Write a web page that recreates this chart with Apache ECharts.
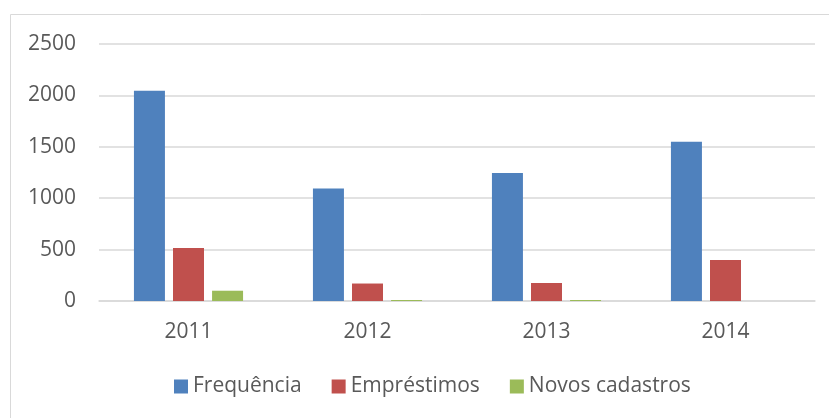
<!DOCTYPE html>
<html>
<head>
<meta charset="utf-8">
<script src="https://cdn.jsdelivr.net/npm/echarts@6/dist/echarts.min.js"></script>
<style>html,body{margin:0;padding:0;background:#fff}#c{width:829px;height:418px}</style>
</head>
<body>
<div id="c"></div>
<script>
const categories = ['2011', '2012', '2013', '2014'];
const frequencia = [2045, 1095, 1245, 1550];
const emprestimos = [515, 170, 175, 400];
const novosCadastros = [100, 10, 10, 0];
const yTicks = [0, 500, 1000, 1500, 2000, 2500];

const FONT = '"Open Sans", sans-serif';
const TXT = '#595959';
const chart = echarts.init(document.getElementById('c'), null, {renderer: 'canvas'});
function mk(name, data, color) {
  return {
    name: name, type: 'bar', data: data, barWidth: 31, barGap: '26%',
    itemStyle: {color: color, borderWidth: 0},
    emphasis: {disabled: true}, animation: false
  };
}
chart.setOption({
  animation: false,
  textStyle: {fontFamily: FONT},
  graphic: [{
    type: 'rect', shape: {x: 10.5, y: 14.5, width: 830, height: 420},
    style: {fill: 'none', stroke: '#d9d9d9', lineWidth: 1}, silent: true, z: -1
  }],
  grid: {left: 99, right: 14, top: 44, bottom: 117},
  legend: {
    left: 174, top: 376, padding: 0, itemWidth: 14, itemHeight: 14, itemGap: 30,
    icon: 'rect',
    textStyle: {fontSize: 21, color: TXT, fontFamily: FONT},
    data: ['Frequência', 'Empréstimos', 'Novos cadastros']
  },
  xAxis: {
    type: 'category', data: categories,
    axisLine: {lineStyle: {color: '#d9d9d9', width: 1.5}},
    axisTick: {show: false},
    axisLabel: {fontSize: 21, color: TXT, fontFamily: FONT, margin: 21}
  },
  yAxis: {
    type: 'value', min: yTicks[0], max: yTicks[yTicks.length - 1], interval: 500,
    axisLine: {show: false}, axisTick: {show: false},
    splitLine: {lineStyle: {color: '#d9d9d9', width: 1.5}},
    axisLabel: {fontSize: 21, color: TXT, fontFamily: FONT, margin: 23,
      formatter: function (v) { return String(v); }}
  },
  series: [
    mk('Frequência', frequencia, '#4F81BD'),
    mk('Empréstimos', emprestimos, '#C0504D'),
    mk('Novos cadastros', novosCadastros, '#9BBB59')
  ]
});
</script>
</body>
</html>
